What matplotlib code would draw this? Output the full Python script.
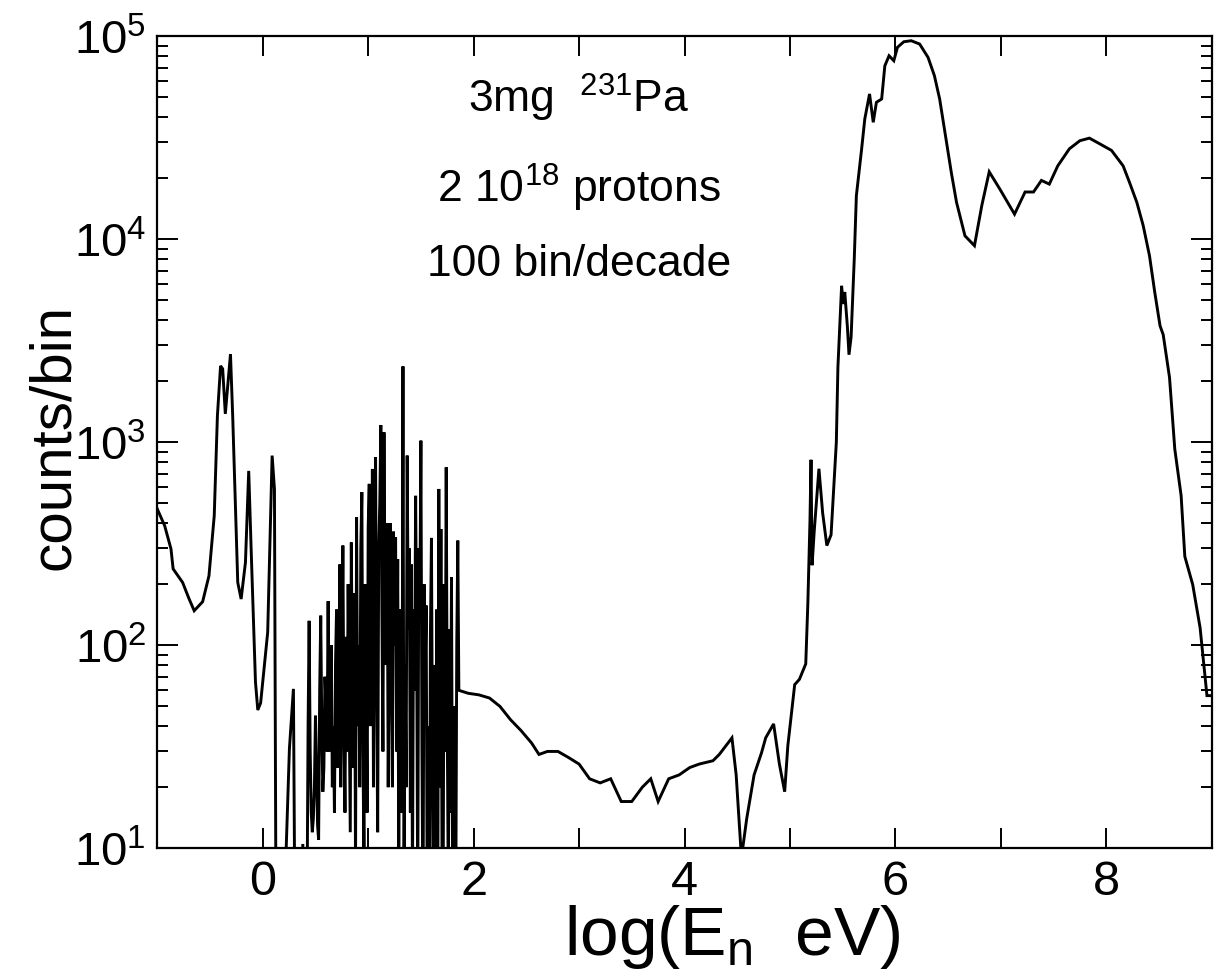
import numpy as np
import matplotlib
matplotlib.use("Agg")
import matplotlib.pyplot as plt
from matplotlib.ticker import MultipleLocator, LogLocator, LogFormatterMathtext, NullFormatter

# ---------------- data ----------------
# thermal / epithermal part, log10(E/eV) vs counts per bin
left_logE = [-1.0, -0.93, -0.87, -0.85, -0.76, -0.70, -0.65, -0.57, -0.51, -0.46,
             -0.43, -0.40, -0.38, -0.355, -0.306, -0.285, -0.26, -0.237, -0.205, -0.164,
             -0.133, -0.11, -0.069, -0.047, -0.02, 0.0, 0.047, 0.089, 0.111, 0.127,
             0.19, 0.253, 0.291, 0.307, 0.36, 0.38, 0.39]
left_counts = [469, 388, 298, 238, 204, 170, 148, 164, 220, 435,
               1350, 2380, 2300, 1380, 2720, 1350, 500, 204, 169, 256,
               723, 298, 66, 48, 52, 66, 116, 860, 589, 3,
               3, 31, 61, 3, 3, 10.5, 3]

# resolved resonance region, 100 bins/decade from log E = 0.40 to 1.85
res_start, res_width = 0.40, 0.01
res_counts = [3, 3, 5, 40, 132, 30, 15, 12, 14, 20,
              45, 25, 13, 11, 60, 140, 40, 19, 25, 70,
              50, 30, 165, 30, 60, 100, 20, 40, 15, 80,
              150, 25, 40, 250, 20, 60, 310, 40, 15, 110,
              30, 200, 50, 12, 321, 60, 25, 180, 8, 427,
              40, 100, 20, 300, 568, 30, 9, 200, 70, 15,
              380, 624, 40, 100, 739, 20, 250, 843, 60, 12,
              300, 500, 1217, 150, 30, 1120, 80, 250, 400, 20,
              120, 400, 60, 20, 363, 100, 340, 30, 266, 8,
              150, 40, 15, 2366, 5, 80, 20, 860, 120, 300,
              15, 250, 6, 150, 60, 545, 100, 5, 300, 150,
              1019, 30, 4, 200, 70, 157, 5, 40, 3, 110,
              338, 25, 4, 80, 3, 150, 5, 589, 20, 374,
              10, 4, 200, 30, 753, 40, 6, 120, 15, 216,
              8, 50, 15, 4, 100, 328]

# fast part
fast_logE = [1.86, 1.95, 2.05, 2.15, 2.25, 2.35, 2.45, 2.55, 2.62, 2.70,
             2.80, 2.90, 3.00, 3.10, 3.20, 3.30, 3.40, 3.50, 3.60, 3.68,
             3.75, 3.85, 3.95, 4.05, 4.14, 4.27, 4.33, 4.45, 4.49, 4.54,
             4.59, 4.66, 4.73, 4.77, 4.845, 4.90, 4.95, 4.98, 5.045, 5.09,
             5.15, 5.17, 5.19, 5.20, 5.21, 5.23, 5.275, 5.31, 5.35, 5.39,
             5.44, 5.455, 5.475, 5.49, 5.505, 5.52, 5.545, 5.56, 5.58, 5.61,
             5.63, 5.68, 5.71, 5.755, 5.79, 5.82, 5.87, 5.90, 5.94, 5.985,
             6.02, 6.08, 6.15, 6.23, 6.31, 6.37, 6.42, 6.48, 6.53, 6.58,
             6.66, 6.75, 6.82, 6.89, 6.99, 7.13, 7.23, 7.31, 7.385, 7.46,
             7.54, 7.65, 7.75, 7.84, 7.94, 8.05, 8.16, 8.22, 8.29, 8.35,
             8.41, 8.46, 8.51, 8.54, 8.60, 8.65, 8.71, 8.745, 8.82, 8.89,
             8.925, 8.955, 8.99]
fast_counts = [60, 58, 57, 55, 50, 43, 38, 33, 29, 30,
               30, 28, 26, 22, 21, 22, 17, 17, 20, 22,
               17, 22, 23, 25, 26, 27, 29, 35, 23, 9,
               14, 23, 29.5, 35, 41, 26, 19, 32, 64, 68,
               81, 162, 411, 820, 248, 363, 741, 450, 310, 350,
               1000, 2350, 4000, 5900, 4800, 5500, 3700, 2700, 3300, 8000,
               16400, 27900, 39200, 52000, 37700, 47300, 49100, 71600, 80200, 75800,
               88300, 94000, 95100, 91600, 78700, 64000, 49100, 31200, 21400, 15200,
               10400, 9300, 14700, 21500, 17700, 13300, 17100, 17100, 19500, 18700,
               23000, 27900, 30600, 31500, 29500, 27400, 23000, 19100, 15200, 11700,
               8300, 5480, 3750, 3390, 2085, 925, 546, 274, 199, 122,
               81, 56.5, 56.5]

annotation_lines = [r"3mg  $^{231}$Pa", r"2 10$^{18}$ protons", "100 bin/decade"]
x_label = r"log(E$_{\mathregular{n}}$  eV)"
y_label = "counts/bin"

# ---------------- build the curve ----------------
res_logE = np.round(res_start + res_width * np.arange(len(res_counts)), 2)
logE = np.concatenate([left_logE, res_logE, fast_logE])
counts = np.concatenate([left_counts, res_counts, fast_counts])

plt.rcParams["font.family"] = ["Liberation Sans", "DejaVu Sans"]
plt.rcParams["mathtext.fontset"] = "custom"
plt.rcParams["mathtext.rm"] = "Liberation Sans"
plt.rcParams["mathtext.it"] = "Liberation Sans"
plt.rcParams["mathtext.bf"] = "Liberation Sans"

W, H = 1226, 970
L, R, T, B = 157.3, 1211.7, 37.3, 849.3
fig = plt.figure(figsize=(W / 100, H / 100), dpi=100)
ax = fig.add_axes([L / W, 1 - B / H, (R - L) / W, (B - T) / H])

ax.plot(logE, counts, color="black", lw=2.1, solid_joinstyle="miter")

ax.set_yscale("log")
ax.set_xlim(-1, 9)
ax.set_ylim(10, 1e5)

ax.xaxis.set_major_locator(MultipleLocator(2))
ax.xaxis.set_minor_locator(MultipleLocator(1))
ax.yaxis.set_major_locator(LogLocator(base=10, numticks=10))
ax.yaxis.set_minor_locator(LogLocator(base=10, subs=np.arange(2, 10), numticks=50))
ax.yaxis.set_major_formatter(LogFormatterMathtext())
ax.yaxis.set_minor_formatter(NullFormatter())

ax.tick_params(which="both", direction="in", top=True, right=True, width=1.4, colors="black")
ax.tick_params(axis="x", which="major", length=14.4, labelsize=35, pad=8)
ax.tick_params(axis="x", which="minor", length=14.4)
ax.tick_params(axis="y", which="major", length=15, labelsize=34, pad=8)
ax.tick_params(axis="y", which="minor", length=8)
for s in ax.spines.values():
    s.set_linewidth(1.6)

# axis labels placed at the reference's pixel positions
ax.set_xlabel(x_label, fontsize=50, va="baseline")
ax.xaxis.set_label_coords((732 - L) / (R - L), -(955 - B) / (B - T))
ax.set_ylabel(y_label, fontsize=42, va="baseline")
ax.yaxis.set_label_coords(-(L - 69) / (R - L), (B - 437) / (B - T))

ys = [0.925, 0.815, 0.72]
for line, yy in zip(annotation_lines, ys):
    ax.text(0.4, yy, line, transform=ax.transAxes, ha="center", va="center", fontsize=32)

fig.savefig("out.png", dpi=100)
